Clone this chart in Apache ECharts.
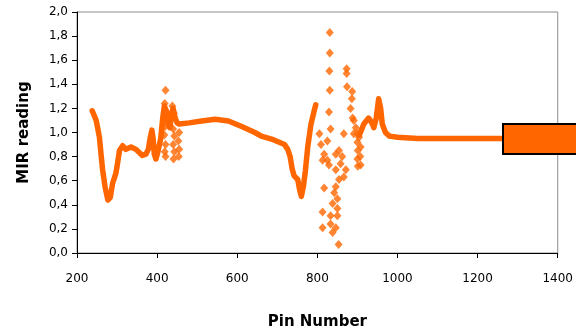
<!DOCTYPE html>
<html>
<head>
<meta charset="utf-8">
<script src="https://cdn.jsdelivr.net/npm/echarts@6/dist/echarts.min.js"></script>
<style>
  html, body { margin: 0; padding: 0; background: #fff; }
  #chart { width: 576px; height: 335px; }
</style>
</head>
<body>
<div id="chart"></div>
<script>
// dense trace, left part (pin, reading)
var traceLeft = [
  [238, 1.18], [243, 1.14], [248, 1.10], [252, 1.03], [256, 0.96], [260, 0.82], [264, 0.69],
  [270, 0.55], [277, 0.44], [283, 0.46], [289, 0.58], [297, 0.66], [301, 0.74], [306, 0.85],
  [314, 0.89], [322, 0.86], [335, 0.88], [347, 0.86], [363, 0.81], [372, 0.82], [378, 0.86],
  [383, 0.96], [387, 1.02], [390, 0.95], [393, 0.82], [397, 0.78], [402, 0.84], [409, 0.95],
  [414, 1.12], [418, 1.22], [423, 1.18], [428, 1.06], [432, 1.04], [436, 1.16], [440, 1.20],
  [445, 1.12], [450, 1.08], [455, 1.07], [480, 1.08], [511, 1.095], [545, 1.11], [578, 1.095],
  [611, 1.05], [644, 1.00], [660, 0.97], [690, 0.94], [718, 0.90], [726, 0.86], [732, 0.80],
  [737, 0.70], [742, 0.64], [751, 0.61], [756, 0.52], [760, 0.47], [765, 0.55], [770, 0.68],
  [776, 0.88], [784, 1.07], [792, 1.18], [796, 1.23]
];

// dense trace, right part
var traceRight = [
  [905, 0.98], [916, 1.07], [928, 1.12], [936, 1.08], [941, 1.04], [947, 1.12], [953, 1.28],
  [958, 1.20], [962, 1.07], [970, 1.00], [980, 0.97], [1000, 0.96], [1050, 0.95], [1150, 0.95],
  [1260, 0.95]
];

// loose points that stand apart from the trace
var loosePoints = [
  // columns near pin 420-455
  [421, 1.35], [419, 1.24], [417, 1.12], [420, 1.05], [418, 0.98], [421, 0.90], [419, 0.84], [421, 0.80],
  [438, 1.22], [442, 1.16], [440, 1.03], [443, 0.97], [440, 0.90], [443, 0.84], [441, 0.78],
  [455, 1.00], [453, 0.93], [455, 0.86], [454, 0.80], [398, 0.85],
  // scatter around pin 800-910
  [831, 1.83], [831, 1.66], [830, 1.51], [831, 1.35], [829, 1.17], [833, 1.03],
  [805, 0.99], [809, 0.90], [825, 0.93], [817, 0.82], [825, 0.77], [829, 0.73], [813, 0.77],
  [846, 0.82], [854, 0.85], [866, 0.99], [862, 0.80], [858, 0.74], [846, 0.69], [871, 0.69],
  [866, 0.63], [854, 0.61], [846, 0.55], [817, 0.54], [842, 0.50], [838, 0.41], [850, 0.45],
  [850, 0.37], [813, 0.34], [833, 0.31], [850, 0.31], [813, 0.21], [833, 0.24], [846, 0.21],
  [838, 0.17], [853, 0.07],
  [873, 1.53], [873, 1.49], [874, 1.38], [886, 1.28], [883, 1.20], [888, 1.12], [896, 1.04],
  [887, 1.34], [891, 1.10], [891, 0.99],
  [900, 0.99], [900, 0.92], [901, 0.85], [900, 0.78], [901, 0.72],
  [904, 0.96], [908, 0.88], [907, 0.80], [908, 0.73]
];

var xTicks = [200, 1400, 200];   // min, max, step
var yTicks = [0, 2, 0.2];

var orange = '#FF6600';
var font = 'DejaVu Sans';

var chart = echarts.init(document.getElementById('chart'), null, { renderer: 'canvas' });

var option = {
  animation: false,
  backgroundColor: '#fff',
  grid: {
    left: 77, right: 14, top: 12, bottom: 77,
    show: true, borderColor: '#8c8c8c', borderWidth: 1, backgroundColor: 'transparent'
  },
  legend: {
    data: ['MIR'],
    left: 502, top: 123, padding: 0,
    icon: 'rect',
    itemWidth: 80, itemHeight: 30,
    itemStyle: { color: orange, borderColor: '#000', borderWidth: 2 },
    textStyle: { color: '#000' }
  },
  xAxis: {
    type: 'value',
    min: xTicks[0], max: xTicks[1], interval: xTicks[2],
    name: 'Pin Number', nameLocation: 'middle', nameGap: 62,
    nameTextStyle: { fontFamily: font, fontSize: 15, fontWeight: 'bold', color: '#000' },
    axisLine: { show: true, lineStyle: { color: '#000', width: 1 } },
    axisTick: { show: true, length: 5, lineStyle: { color: '#000' } },
    axisLabel: {
      fontFamily: font, fontSize: 12, color: '#000', margin: 20,
      formatter: function (v) { return String(v); }
    },
    splitLine: { show: false }
  },
  yAxis: {
    type: 'value',
    min: yTicks[0], max: yTicks[1], interval: yTicks[2],
    name: 'MIR reading', nameLocation: 'middle', nameGap: 45,
    nameTextStyle: { fontFamily: font, fontSize: 15, fontWeight: 'bold', color: '#000' },
    axisLine: { show: true, lineStyle: { color: '#000', width: 1 } },
    axisTick: { show: true, length: 5, lineStyle: { color: '#000' } },
    axisLabel: {
      fontFamily: font, fontSize: 12, color: '#000', margin: 9,
      formatter: function (v) { return v.toFixed(1).replace('.', ','); }
    },
    splitLine: { show: false }
  },
  series: [
    {
      name: 'MIR', type: 'line', data: traceLeft,
      showSymbol: false, symbol: 'none', smooth: false,
      lineStyle: { color: orange, width: 5.5, cap: 'round', join: 'round' },
      itemStyle: { color: orange }
    },
    {
      name: 'MIR', type: 'line', data: traceRight,
      showSymbol: false, symbol: 'none', smooth: false,
      lineStyle: { color: orange, width: 5.5, cap: 'round', join: 'round' },
      itemStyle: { color: orange }
    },
    {
      name: 'MIR', type: 'scatter', data: loosePoints,
      symbol: 'diamond', symbolSize: [8, 9],
      itemStyle: { color: orange }
    }
  ]
};

chart.setOption(option);
</script>
</body>
</html>
